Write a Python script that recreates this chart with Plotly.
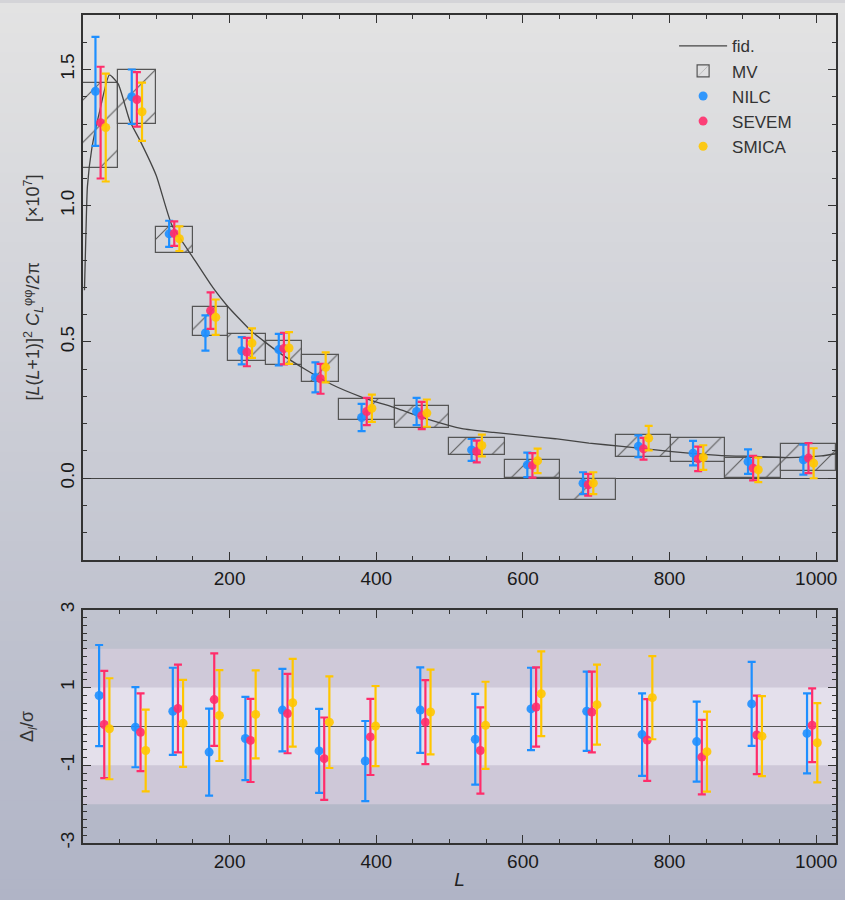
import plotly.graph_objects as go
from plotly.subplots import make_subplots

# ---------------- data ----------------
bin_edges = [0, 48, 99, 150, 198, 249, 299, 349, 425, 499, 575, 651, 727, 802, 876, 952, 1027]
mv_val = [1.295, 1.40, 0.875, 0.574, 0.48, 0.458, 0.403, 0.252, 0.225, 0.117, 0.034, -0.042, 0.117, 0.103, 0.038, 0.076]
mv_err = [0.155, 0.10, 0.047, 0.053, 0.049, 0.044, 0.048, 0.040, 0.041, 0.030, 0.034, 0.038, 0.040, 0.044, 0.038, 0.049]

nilc_val = [1.42, 1.40, 0.897, 0.533, 0.468, 0.472, 0.37, 0.223, 0.245, 0.104, 0.049, -0.018, 0.117, 0.092, 0.061, 0.068]
nilc_err = [0.20, 0.10, 0.048, 0.065, 0.050, 0.058, 0.055, 0.050, 0.050, 0.040, 0.045, 0.040, 0.040, 0.045, 0.045, 0.055]
sevem_val = [1.305, 1.39, 0.898, 0.615, 0.463, 0.476, 0.365, 0.245, 0.23, 0.098, 0.047, -0.024, 0.108, 0.071, 0.037, 0.074]
sevem_err = [0.205, 0.10, 0.045, 0.067, 0.052, 0.058, 0.055, 0.050, 0.050, 0.040, 0.045, 0.040, 0.040, 0.045, 0.045, 0.055]
smica_val = [1.287, 1.345, 0.879, 0.591, 0.496, 0.478, 0.407, 0.257, 0.239, 0.12, 0.064, -0.018, 0.147, 0.076, 0.031, 0.055]
smica_err = [0.198, 0.107, 0.045, 0.065, 0.054, 0.058, 0.055, 0.050, 0.050, 0.040, 0.045, 0.040, 0.045, 0.045, 0.045, 0.055]

nilc_dev = [0.795, -0.02, 0.39, -0.66, -0.31, 0.42, -0.63, -0.89, 0.42, -0.33, 0.45, 0.39, -0.21, -0.39, 0.58, -0.18]
nilc_dev_err = [1.30, 1.03, 1.12, 1.12, 1.07, 1.06, 1.08, 1.03, 1.10, 1.17, 1.06, 1.02, 1.06, 1.03, 1.08, 1.03]
sevem_dev = [0.05, -0.15, 0.46, 0.69, -0.36, 0.33, -0.83, -0.27, 0.11, -0.62, 0.50, 0.37, -0.35, -0.79, -0.22, 0.03]
sevem_dev_err = [1.38, 1.00, 1.13, 1.19, 1.07, 1.02, 1.06, 0.98, 1.08, 1.11, 1.02, 1.04, 1.05, 0.96, 1.01, 0.95]
smica_dev = [-0.06, -0.62, 0.08, 0.28, 0.31, 0.61, 0.11, 0.01, 0.37, 0.03, 0.84, 0.56, 0.74, -0.65, -0.25, -0.42]
smica_dev_err = [1.30, 1.05, 1.12, 1.17, 1.13, 1.13, 1.18, 1.03, 1.09, 1.12, 1.09, 1.03, 1.07, 1.03, 1.03, 1.02]

fid_L = [2, 4, 6, 12, 23, 36, 48, 64, 78, 100, 121, 150, 177, 196, 230, 268, 304, 340, 380, 427,
         472, 517, 560, 600, 644, 690, 735, 781, 826, 871, 916, 962, 1007, 1027]
fid_val = [0.69, 0.90, 1.07, 1.21, 1.35, 1.48, 1.447, 1.31, 1.238, 1.11, 0.93, 0.81, 0.70, 0.635,
           0.539, 0.46, 0.398, 0.343, 0.298, 0.257, 0.215, 0.182, 0.168, 0.157, 0.145, 0.129, 0.117,
           0.104, 0.092, 0.083, 0.080, 0.076, 0.082, 0.09]

series_names = ["NILC", "SEVEM", "SMICA"]
series_colors = ["#1e8fff", "#ff2d6b", "#ffc600"]

# ---------------- derived ----------------
centers = [(a + b) / 2 for a, b in zip(bin_edges[:-1], bin_edges[1:])]
widths = [b - a for a, b in zip(bin_edges[:-1], bin_edges[1:])]
top_shift = [-7, 0, 7]
bot_shift = [-2, 5, 12]

FONT = "Liberation Sans, Arial, sans-serif"
AX = "#333333"

fig = make_subplots(rows=2, cols=1, shared_xaxes=False, vertical_spacing=0.06,
                    row_heights=[0.66, 0.34])

# fiducial
fig.add_trace(go.Scatter(x=fid_L, y=fid_val, mode="lines", name="fid.", legendgroup="fid",
                         line=dict(color="#444444", width=1.3, shape="spline", smoothing=0.5)),
              row=1, col=1)

# MV hatched boxes
fig.add_trace(go.Bar(
    x=centers, y=[2 * e for e in mv_err], base=[v - e for v, e in zip(mv_val, mv_err)],
    width=widths, name="MV", legendgroup="mv",
    marker=dict(color="rgba(0,0,0,0)", line=dict(color="#555555", width=1.2),
                pattern=dict(shape="/", size=30, solidity=0.035, fgcolor="#5a5a5a",
                             bgcolor="rgba(0,0,0,0)", fillmode="replace")),
), row=1, col=1)

top_vals = [(nilc_val, nilc_err), (sevem_val, sevem_err), (smica_val, smica_err)]
bot_vals = [(nilc_dev, nilc_dev_err), (sevem_dev, sevem_dev_err), (smica_dev, smica_dev_err)]

for i, (name, col) in enumerate(zip(series_names, series_colors)):
    v, e = top_vals[i]
    fig.add_trace(go.Scatter(
        x=[c + top_shift[i] for c in centers], y=v, mode="markers", name=name, legendgroup=name,
        marker=dict(color=col, size=9, opacity=0.9),
        error_y=dict(type="data", array=e, color=col, thickness=2.2, width=4),
    ), row=1, col=1)

for i, (name, col) in enumerate(zip(series_names, series_colors)):
    v, e = bot_vals[i]
    fig.add_trace(go.Scatter(
        x=[c + bot_shift[i] for c in centers], y=v, mode="markers", name=name, legendgroup=name,
        showlegend=False,
        marker=dict(color=col, size=9, opacity=0.9),
        error_y=dict(type="data", array=e, color=col, thickness=2.2, width=4),
    ), row=2, col=1)

# ---------------- background gradient ----------------
W, H = 845, 900
ml, mr, mt, mb = 83, 7, 12, 57
pw, ph = W - ml - mr, H - mt - mb
shapes = []
N = 90
c0 = (227, 227, 227)
c1 = (176, 180, 198)
for k in range(N):
    t = k / (N - 1)
    col = tuple(int(round(c0[j] + (c1[j] - c0[j]) * t)) for j in range(3))
    ytop_px = k * H / N
    ybot_px = (k + 1) * H / N + 1
    shapes.append(dict(type="rect", xref="paper", yref="paper", layer="below",
                       x0=-ml / pw - 0.01, x1=1 + mr / pw + 0.01,
                       y0=(H - mb - ybot_px) / ph, y1=(H - mb - ytop_px) / ph,
                       line=dict(width=0), fillcolor="rgb(%d,%d,%d)" % col))
# sigma bands in lower panel
shapes.append(dict(type="rect", xref="x2 domain", yref="y2", layer="below", x0=0, x1=1, y0=-2, y1=2,
                   line=dict(width=0), fillcolor="rgba(214,204,220,0.75)"))
shapes.append(dict(type="rect", xref="x2 domain", yref="y2", layer="below", x0=0, x1=1, y0=-1, y1=1,
                   line=dict(width=0), fillcolor="rgba(232,228,238,0.85)"))

tickfont = dict(family=FONT, size=19, color="#1a1a1a")

axis_common = dict(showline=True, linecolor=AX, linewidth=1.5, mirror="ticks", ticks="inside",
                   ticklen=8, tickcolor=AX, tickwidth=1.3, showgrid=False, tickfont=tickfont)

NB = "\u00a0"
ytitle = ("[<i>L</i>(<i>L</i>+1)]<sup>2</sup>" + NB + "<i>C</i><sub><i>L</i></sub><sup>φφ</sup>/2π"
          + NB * 8 + "[×10<sup>7</sup>]")

fig.update_layout(
    width=W, height=H,
    margin=dict(l=ml, r=mr, t=mt, b=mb),
    paper_bgcolor="#d4d4d8", plot_bgcolor="rgba(0,0,0,0)",
    shapes=shapes, barmode="overlay", bargap=0,
    font=dict(family=FONT, size=14, color="#333333"),
    legend=dict(x=0.785, y=0.984, xanchor="left", yanchor="top", bgcolor="rgba(0,0,0,0)",
                font=dict(family=FONT, size=17, color="#333333"), traceorder="grouped",
                tracegroupgap=0, itemwidth=48),
    xaxis=dict(axis_common, range=[0, 1027], tickvals=[200, 400, 600, 800, 1000],
               minor=dict(ticks="inside", dtick=50, tick0=0, ticklen=4, tickcolor=AX),
               domain=[0, 1], zeroline=False),
    yaxis=dict(axis_common, range=[-0.3, 1.7], tickvals=[0, 0.5, 1.0, 1.5],
               ticktext=["0.0", "0.5", "1.0", "1.5"], tickangle=-90,
               minor=dict(ticks="inside", dtick=0.1, tick0=0, ticklen=4, tickcolor=AX),
               domain=[0.3418, 1.0], zeroline=True, zerolinecolor="#444444", zerolinewidth=1.3,
               title=dict(text=ytitle, font=dict(family=FONT, size=18, color="#333333"), standoff=12)),
    xaxis2=dict(axis_common, range=[0, 1027], tickvals=[200, 400, 600, 800, 1000],
                minor=dict(ticks="inside", dtick=50, tick0=0, ticklen=4, tickcolor=AX),
                zeroline=False,
                title=dict(text="<i>L</i>", font=dict(family=FONT, size=19, color="#222222"), standoff=2)),
    yaxis2=dict(axis_common, range=[-3, 3], tickvals=[-3, -1, 1, 3], ticktext=["-3", "-1", "1", "3"],
                tickangle=-90,
                minor=dict(ticks="inside", dtick=0.2, tick0=-3, ticklen=4, tickcolor=AX),
                domain=[0, 0.2816], zeroline=True, zerolinecolor="#555555", zerolinewidth=1.3,
                title=dict(text="Δ<sub><i>l</i></sub>/σ", font=dict(family=FONT, size=18, color="#333333"),
                           standoff=18)),
)

fig.write_html("out.html", config={"displayModeBar": False},
               post_script="document.body.style.margin='0';document.body.style.padding='0';")
